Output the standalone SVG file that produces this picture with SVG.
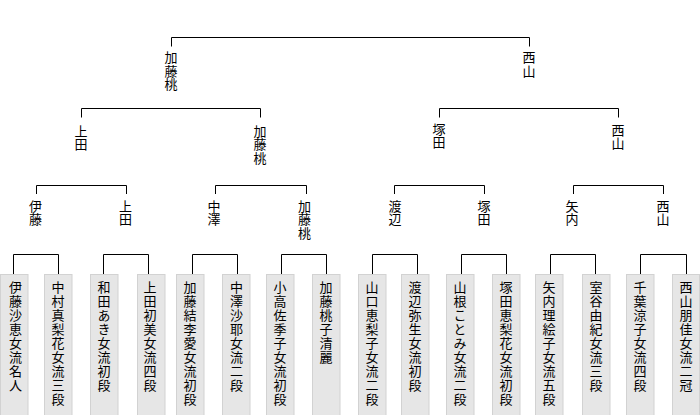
<svg xmlns="http://www.w3.org/2000/svg" width="700" height="415" viewBox="0 0 700 415">
<style>
  .bg{fill:#ffffff}
  .ln{fill:none;stroke:#000000;stroke-width:1}
  .box{fill:#e6e6e6;stroke:#d2d2d2;stroke-width:1}
  .t{font-family:"Noto Sans CJK JP","Noto Sans CJK SC",sans-serif;font-size:13px;fill:#000000;writing-mode:vertical-rl;text-anchor:start}
  .h{letter-spacing:0.4px}
  .v{letter-spacing:0.9px}
</style>
<rect class="bg" x="0" y="0" width="700" height="415"/>
<g id="connectors">
  <path class="ln" d="M171.5,46.5V37.5H529.5V46.5"/>
  <path class="ln" d="M81.5,117.5V108.5H260.5V117.5"/>
  <path class="ln" d="M439.5,117.5V108.5H618.5V117.5"/>
  <path class="ln" d="M36.5,194V185.5H126.5V194"/>
  <path class="ln" d="M215.5,194V185.5H306.5V194"/>
  <path class="ln" d="M394.5,194V185.5H484.5V194"/>
  <path class="ln" d="M573.5,194V185.5H663.5V194"/>
  <path class="ln" d="M13.5,274V254.5H58.5V274"/>
  <path class="ln" d="M103.5,274V254.5H148.5V274"/>
  <path class="ln" d="M192.5,274V254.5H237.5V274"/>
  <path class="ln" d="M281.5,274V254.5H326.5V274"/>
  <path class="ln" d="M372.5,274V254.5H417.5V274"/>
  <path class="ln" d="M461.5,274V254.5H506.5V274"/>
  <path class="ln" d="M550.5,274V254.5H595.5V274"/>
  <path class="ln" d="M640.5,274V254.5H686.5V274"/>
</g>
<g id="r1-kato"><text class="t h" x="171" y="51">加藤桃</text></g>
<g id="r1-nishiyama"><text class="t h" x="529" y="51">西山</text></g>
<g id="r2-ueda"><text class="t h" x="81" y="124.5">上田</text></g>
<g id="r2-kato"><text class="t h" x="260" y="124.5">加藤桃</text></g>
<g id="r2-tsukada"><text class="t h" x="439" y="122.5">塚田</text></g>
<g id="r2-nishiyama"><text class="t h" x="618" y="123.5">西山</text></g>
<g id="r3-ito"><text class="t h" x="35.5" y="199.5">伊藤</text></g>
<g id="r3-ueda"><text class="t h" x="125.5" y="199.5">上田</text></g>
<g id="r3-nakazawa"><text class="t h" x="214" y="199.5">中澤</text></g>
<g id="r3-kato"><text class="t h" x="304.5" y="199.5">加藤桃</text></g>
<g id="r3-watanabe"><text class="t h" x="395" y="199.5">渡辺</text></g>
<g id="r3-tsukada"><text class="t h" x="484" y="199.5">塚田</text></g>
<g id="r3-yanai"><text class="t h" x="572" y="199.5">矢内</text></g>
<g id="r3-nishiyama"><text class="t h" x="663" y="199.5">西山</text></g>
<g id="p01"><rect class="box" x="0.5" y="274.5" width="27.5" height="150"/><text class="t v" x="15.5" y="281">伊藤沙恵女流名人</text></g>
<g id="p02"><rect class="box" x="44.5" y="274.5" width="27.5" height="150"/><text class="t v" x="58" y="281">中村真梨花女流三段</text></g>
<g id="p03"><rect class="box" x="90.5" y="274.5" width="27.5" height="150"/><text class="t v" x="104" y="281">和田あき女流初段</text></g>
<g id="p04"><rect class="box" x="137.5" y="274.5" width="27.5" height="150"/><text class="t v" x="150" y="281">上田初美女流四段</text></g>
<g id="p05"><rect class="box" x="176.5" y="274.5" width="27.5" height="150"/><text class="t v" x="190" y="281">加藤結李愛女流初段</text></g>
<g id="p06"><rect class="box" x="222.5" y="274.5" width="27.5" height="150"/><text class="t v" x="236.5" y="281">中澤沙耶女流二段</text></g>
<g id="p07"><rect class="box" x="266.5" y="274.5" width="27.5" height="150"/><text class="t v" x="280" y="281">小高佐季子女流初段</text></g>
<g id="p08"><rect class="box" x="312.5" y="274.5" width="27.5" height="150"/><text class="t v" x="326" y="281">加藤桃子清麗</text></g>
<g id="p09"><rect class="box" x="358.5" y="274.5" width="27.5" height="150"/><text class="t v" x="372" y="281">山口恵梨子女流二段</text></g>
<g id="p10"><rect class="box" x="401.5" y="274.5" width="27.5" height="150"/><text class="t v" x="415" y="281">渡辺弥生女流初段</text></g>
<g id="p11"><rect class="box" x="446.5" y="274.5" width="27.5" height="150"/><text class="t v" x="460" y="281">山根ことみ女流二段</text></g>
<g id="p12"><rect class="box" x="492.5" y="274.5" width="27.5" height="150"/><text class="t v" x="506" y="281">塚田恵梨花女流初段</text></g>
<g id="p13"><rect class="box" x="535.5" y="274.5" width="27.5" height="150"/><text class="t v" x="549" y="281">矢内理絵子女流五段</text></g>
<g id="p14"><rect class="box" x="582.5" y="274.5" width="27.5" height="150"/><text class="t v" x="596" y="281">室谷由紀女流三段</text></g>
<g id="p15"><rect class="box" x="626.5" y="274.5" width="27.5" height="150"/><text class="t v" x="640" y="281">千葉涼子女流四段</text></g>
<g id="p16"><rect class="box" x="672.5" y="274.5" width="27" height="150"/><text class="t v" x="686" y="281">西山朋佳女流二冠</text></g>
</svg>
